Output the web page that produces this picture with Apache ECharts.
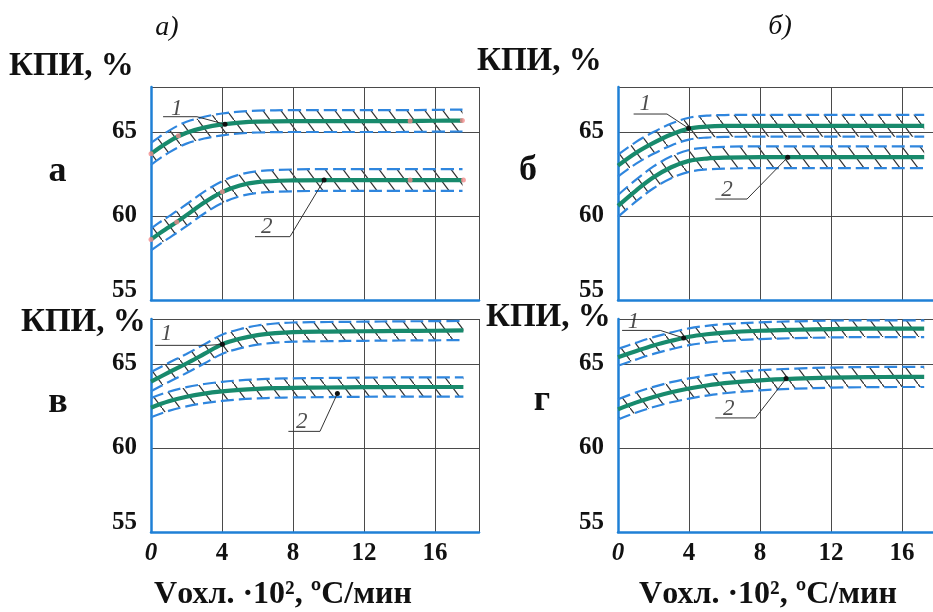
<!DOCTYPE html>
<html><head><meta charset="utf-8">
<script src="https://cdn.jsdelivr.net/npm/echarts@6/dist/echarts.min.js"></script>
<style>html,body{margin:0;padding:0;background:#fff}#c{width:933px;height:612px}</style>
</head><body><div id="c"></div>
<script>
// ---------- data ----------
const xTicks = [0, 4, 8, 12, 16];
const yTicks = [55, 60, 65];
const panelNames = ['а', 'б', 'в', 'г'];
const figLabels = ['а)', 'б)'];
const yTitle = 'КПИ, %';
const xTitle = 'Vохл. ·10², ºC/мин';

// panel а
const xA = [0, 0.5, 1, 1.5, 2, 3, 4, 5, 6, 8, 10, 12, 14, 16, 17.55];
const a1 = [63.7, 64.08, 64.42, 64.72, 64.96, 65.26, 65.45, 65.56, 65.62, 65.65, 65.65, 65.65, 65.65, 65.67, 65.68];
const a2 = [58.6, 58.98, 59.33, 59.68, 60.05, 60.8, 61.42, 61.82, 62.02, 62.12, 62.14, 62.14, 62.14, 62.14, 62.14];
const aBand = [0.65, 0.65];
const aExp1X = [0, 1.54, 14.6, 17.54];
const aExp1Y = [63.7, 64.78, 65.65, 65.68];
const aExp2X = [0, 1.45, 4.02, 14.6, 17.6];
const aExp2Y = [58.6, 59.65, 61.44, 62.14, 62.14];

// panel б
const xB = [0, 1, 2, 3, 4, 5, 6, 8, 10, 12, 14, 16, 17.25];
const b1 = [63.0, 63.75, 64.35, 64.85, 65.2, 65.32, 65.36, 65.37, 65.37, 65.37, 65.37, 65.37, 65.37];
const b2 = [60.6, 61.5, 62.3, 62.9, 63.28, 63.42, 63.47, 63.5, 63.5, 63.5, 63.5, 63.5, 63.5];
const bBand = [0.65, 0.65];

// panel в
const xV = [0, 1, 2, 3, 4, 5, 6, 7, 8, 10, 12, 14, 16, 17.6];
const v1 = [63.95, 64.5, 65.03, 65.6, 66.17, 66.5, 66.72, 66.84, 66.9, 66.93, 66.95, 66.97, 66.98, 67.0];
const v2 = [62.4, 62.78, 63.05, 63.24, 63.37, 63.46, 63.52, 63.56, 63.58, 63.6, 63.62, 63.63, 63.63, 63.63];
const vBand = [0.57, 0.57];

// panel г
const xG = [0, 1, 2, 3, 4, 5, 6, 8, 10, 12, 14, 16, 17.25];
const g1 = [65.4, 65.76, 66.1, 66.38, 66.62, 66.77, 66.87, 66.98, 67.04, 67.08, 67.1, 67.1, 67.1];
const g2 = [62.3, 62.7, 63.04, 63.32, 63.54, 63.72, 63.86, 64.03, 64.13, 64.19, 64.22, 64.23, 64.23];
const gBand = [0.5, 0.6];

// curve labels with leader lines: [underline x0, underline x1, underline y, dot x, dot y, label x, label y]
const leadA1 = [0.68, 2.59, 65.91, 4.17, 65.46, 1.45, 66.4];
const leadA2 = [5.86, 7.83, 58.77, 9.75, 62.14, 6.52, 59.37];
const leadB1 = [0.88, 2.76, 66.07, 3.98, 65.22, 1.54, 66.69];
const leadB2 = [5.48, 7.27, 61.01, 9.56, 63.49, 6.14, 61.55];
const leadV1 = [0.23, 3.2, 66.11, 4.02, 66.17, 0.88, 66.81];
const leadV2 = [7.74, 9.52, 60.99, 10.5, 63.24, 8.49, 61.55];
const leadG1 = [0.23, 2.38, 67.0, 3.7, 66.55, 0.88, 67.5];
const leadG2 = [5.48, 7.74, 61.79, 9.47, 64.13, 6.24, 62.34];

// ---------- styling ----------
const AXIS_BLUE = '#1f80d6';
const DASH_BLUE = '#2f86de';
const GREEN = '#188a6c';
const GRIDC = '#4a4a4a';
const SERIF = '"Liberation Serif", "Times New Roman", serif';
const PX_PER_X = 17.75;

function makeHatch() {
  const c = document.createElement('canvas');
  c.width = 18; c.height = 24;
  const ctx = c.getContext('2d');
  ctx.strokeStyle = '#2e2e2e';
  ctx.lineWidth = 1.2;
  ctx.beginPath();
  ctx.moveTo(-18, -24); ctx.lineTo(36, 48);
  ctx.stroke();
  return c;
}
const hatch = makeHatch();

const panels = [
  {x: xA, c: [a1, a2], band: aBand, left: 151, top: 87, w: 328, xLab: false, exp: [[aExp1X, aExp1Y], [aExp2X, aExp2Y]], leads: [leadA1, leadA2]},
  {x: xB, c: [b1, b2], band: bBand, left: 618, top: 87, w: 345, xLab: false, exp: [], leads: [leadB1, leadB2]},
  {x: xV, c: [v1, v2], band: vBand, left: 151, top: 319, w: 328, xLab: true, exp: [], leads: [leadV1, leadV2]},
  {x: xG, c: [g1, g2], band: gBand, left: 618, top: 319, w: 345, xLab: true, exp: [], leads: [leadG1, leadG2]}
];
const PLOT_H = 213;
const Y_MAX = 55 + PLOT_H / 16.8;

const grids = [], xAxes = [], yAxes = [], series = [];
panels.forEach((p, i) => {
  grids.push({left: p.left, top: p.top, width: p.w, height: PLOT_H, containLabel: false, outerBoundsMode: 'none'});
  xAxes.push({
    gridIndex: i, type: 'value', min: 0, max: p.w / PX_PER_X, interval: 4, z: 4,
    axisLine: {show: true, onZero: false, lineStyle: {color: AXIS_BLUE, width: 2.5}},
    axisTick: {show: false},
    splitLine: {show: true, lineStyle: {color: GRIDC, width: 1}},
    axisLabel: {
      show: p.xLab, showMinLabel: true, showMaxLabel: false, margin: 9,
      fontFamily: SERIF, fontWeight: 'bold', fontSize: 25, color: '#111',
      formatter: v => (xTicks.indexOf(v) < 0 ? '' : (v === 0 ? '{i|0}' : '{n|' + v + '}')),
      rich: {
        i: {fontFamily: SERIF, fontWeight: 'bold', fontStyle: 'italic', fontSize: 25, color: '#111'},
        n: {fontFamily: SERIF, fontWeight: 'bold', fontSize: 25, color: '#111'}
      }
    }
  });
  yAxes.push({
    gridIndex: i, type: 'value', min: 55, max: Y_MAX, interval: 5, z: 4,
    axisLine: {show: true, onZero: false, lineStyle: {color: AXIS_BLUE, width: 2.5}},
    axisTick: {show: false},
    splitLine: {show: true, lineStyle: {color: GRIDC, width: 1}},
    axisLabel: {
      showMinLabel: true, showMaxLabel: false, margin: 14,
      fontFamily: SERIF, fontWeight: 'bold', fontSize: 25, color: '#111',
      formatter: v => (yTicks.indexOf(v) < 0 ? '' : (v === 55 ? '{lo|55}' : '{n|' + v + '}')),
      rich: {
        lo: {fontFamily: SERIF, fontWeight: 'bold', fontSize: 25, color: '#111', padding: [0, 0, 18, 0]},
        n: {fontFamily: SERIF, fontWeight: 'bold', fontSize: 25, color: '#111'}
      }
    }
  });

  p.c.forEach((vals, k) => {
    const hw = p.band[k];
    const xs = p.x;
    // hatched confidence band
    series.push({
      type: 'custom', xAxisIndex: i, yAxisIndex: i, silent: true, z: 2,
      data: xs.map((xx, j) => [xx, vals[j]]),
      encode: {x: 0, y: 1},
      renderItem: function (params, api) {
        if (params.dataIndex !== 0) return null;
        const up = [], lo = [];
        xs.forEach((xx, j) => {
          up.push(api.coord([xx, vals[j] + hw]));
          lo.push(api.coord([xx, vals[j] - hw]));
        });
        return {
          type: 'polygon',
          shape: {points: up.concat(lo.reverse())},
          style: {fill: {image: hatch, repeat: 'repeat'}, stroke: null}
        };
      }
    });
    // dashed band edges
    [hw, -hw].forEach(d => {
      series.push({
        type: 'line', xAxisIndex: i, yAxisIndex: i, smooth: 0.35, symbol: 'none', silent: true,
        data: xs.map((xx, j) => [xx, vals[j] + d]),
        lineStyle: {color: DASH_BLUE, width: 2.2, type: [13, 5]}, z: 5
      });
    });
    // regression curve
    series.push({
      type: 'line', xAxisIndex: i, yAxisIndex: i, smooth: 0.35, symbol: 'none', silent: true,
      data: xs.map((xx, j) => [xx, vals[j]]),
      lineStyle: {color: GREEN, width: 4.2}, z: 6
    });
  });

  p.exp.forEach(e => {
    series.push({
      type: 'scatter', xAxisIndex: i, yAxisIndex: i, symbolSize: 5, silent: true,
      data: e[0].map((xx, j) => [xx, e[1][j]]),
      itemStyle: {color: '#f28b8b'}, z: 7
    });
  });

  p.leads.forEach((L, k) => {
    series.push({
      type: 'line', xAxisIndex: i, yAxisIndex: i, clip: false, silent: true,
      data: [
        {value: [L[0], L[2]], symbol: 'none'},
        {value: [L[1], L[2]], symbol: 'none'},
        {value: [L[3], L[4]], symbol: 'circle', symbolSize: 5}
      ],
      showSymbol: true,
      itemStyle: {color: '#111'},
      lineStyle: {color: '#333', width: 1}, z: 8
    });
    series.push({
      type: 'scatter', xAxisIndex: i, yAxisIndex: i, clip: false, silent: true,
      symbolSize: 1, itemStyle: {color: 'rgba(0,0,0,0)'},
      data: [[L[5], L[6]]],
      label: {show: true, position: 'inside', formatter: String(k + 1),
        fontFamily: SERIF, fontStyle: 'italic', fontSize: 23, color: '#222'},
      labelLayout: {hideOverlap: false},
      z: 9
    });
  });
});

function txt(text, x, y, font, align) {
  return {type: 'text', x: x, y: y, silent: true, z: 20,
    style: {text: text, font: font, fill: '#111', textAlign: align || 'center', textVerticalAlign: 'middle', align: align || 'center', verticalAlign: 'middle'}};
}
const bold32 = 'bold 33px ' + SERIF;
const graphics = [
  txt(figLabels[0], 167, 28, 'italic 28px ' + SERIF),
  txt(figLabels[1], 780, 27, 'italic 28px ' + SERIF),
  txt(yTitle, 9, 66, bold32, 'left'),
  txt(yTitle, 477, 61, bold32, 'left'),
  txt(yTitle, 21, 322, bold32, 'left'),
  txt(yTitle, 486, 317, bold32, 'left'),
  txt(panelNames[0], 57.5, 172, 'bold 36px ' + SERIF),
  txt(panelNames[1], 528, 171, 'bold 36px ' + SERIF),
  txt(panelNames[2], 58, 403, 'bold 36px ' + SERIF),
  txt(panelNames[3], 542, 401, 'bold 36px ' + SERIF),
  txt(xTitle, 283, 595, 'bold 32px ' + SERIF),
  txt(xTitle, 768, 595, 'bold 32px ' + SERIF)
];

const chart = echarts.init(document.getElementById('c'), null, {renderer: 'canvas'});
chart.setOption({
  animation: false,
  backgroundColor: '#ffffff',
  grid: grids, xAxis: xAxes, yAxis: yAxes, series: series, graphic: graphics
});
</script></body></html>
